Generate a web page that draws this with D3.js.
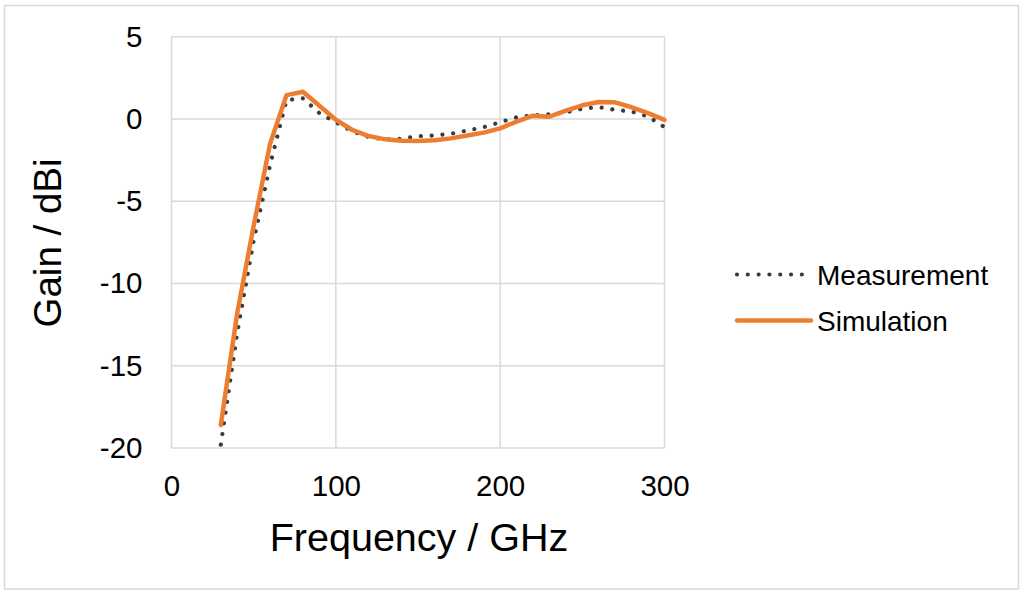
<!DOCTYPE html>
<html><head><meta charset="utf-8">
<script src="https://cdn.jsdelivr.net/npm/d3@7"></script>
<style>
html,body{margin:0;padding:0;background:#fff;}
svg{display:block;font-family:"Liberation Sans",Arial,sans-serif;}
</style></head>
<body><svg id="c" width="1026" height="596"></svg>
<script>
const freq = [30,40,50,60,70,80,90,100,110,120,130,140,150,160,170,180,190,200,210,220,230,240,250,260,270,280,290,300];
const measurement = [-19.8,-13.0,-7.4,-2.8,1.15,1.25,0.35,-0.2,-0.75,-1.1,-1.25,-1.2,-1.05,-1.0,-0.9,-0.7,-0.5,-0.2,0.1,0.22,0.28,0.4,0.62,0.72,0.55,0.45,0.15,-0.5];
const simulation = [-18.6,-11.8,-6.5,-1.5,1.45,1.65,0.8,-0.05,-0.67,-1.04,-1.24,-1.32,-1.34,-1.3,-1.18,-1.01,-0.83,-0.57,-0.16,0.2,0.14,0.5,0.83,1.03,1.01,0.71,0.35,-0.06];
const xTicks = [0,100,200,300];
const yTicks = [5,0,-5,-10,-15,-20];
const seriesNames = ["Measurement","Simulation"];

const svg = d3.select("#c");
// outer frame
svg.append("rect").attr("x",4.5).attr("y",5.5).attr("width",1014).attr("height",583.5)
  .attr("fill","none").attr("stroke","#d9d9d9").attr("stroke-width",1.5);

const x = d3.scaleLinear().domain([0,300]).range([171.5,664.5]);
const y = d3.scaleLinear().domain([-20,5]).range([448,36.7]);

// gridlines
const g = svg.append("g");
g.selectAll("line.v").data(xTicks).join("line")
  .attr("x1",d=>x(d)).attr("x2",d=>x(d)).attr("y1",y(5)).attr("y2",y(-20))
  .attr("stroke","#d9d9d9").attr("stroke-width",1.5);
g.selectAll("line.h").data(yTicks).join("line")
  .attr("y1",d=>y(d)).attr("y2",d=>y(d)).attr("x1",x(0)).attr("x2",x(300))
  .attr("stroke","#d9d9d9").attr("stroke-width",1.5);

// axes labels via d3 axes
const xAxis = svg.append("g").attr("transform",`translate(0,${y(-20)})`)
  .call(d3.axisBottom(x).tickValues(xTicks).tickSize(0).tickPadding(27));
xAxis.select(".domain").remove();
xAxis.selectAll("text").attr("font-size",29.5).attr("fill","#000").attr("font-family","Liberation Sans, Arial, sans-serif");

const yAxis = svg.append("g").attr("transform",`translate(${x(0)},0)`)
  .call(d3.axisLeft(y).tickValues(yTicks).tickSize(0).tickPadding(29).tickFormat(d3.format("d")));
yAxis.select(".domain").remove();
yAxis.selectAll("text").attr("font-size",29.5).attr("fill","#000").attr("font-family","Liberation Sans, Arial, sans-serif");
yAxis.selectAll("text").text(d=>String(d).replace("\u2212","-"));

// lines
const lineM = d3.line().x((d,i)=>x(freq[i])).y(d=>y(d));
svg.append("path").datum(measurement).attr("d",lineM)
  .attr("fill","none").attr("stroke","#3b3b3b").attr("stroke-width",4.2)
  .attr("stroke-linecap","round").attr("stroke-dasharray","0.01 10.8");
svg.append("path").datum(simulation).attr("d",lineM)
  .attr("fill","none").attr("stroke","#ED7D31").attr("stroke-width",4.5)
  .attr("stroke-linejoin","round").attr("stroke-linecap","round");

// axis titles
svg.append("text").attr("x",419).attr("y",551).attr("text-anchor","middle")
  .attr("font-size",39.5).attr("fill","#000").text("Frequency / GHz");
svg.append("text").attr("transform","translate(61,243) rotate(-90)").attr("text-anchor","middle")
  .attr("font-size",38.5).attr("fill","#000").text("Gain / dBi");

// legend
const leg = svg.append("g");
const ly = [274.5,320.5];
leg.append("line").attr("x1",737).attr("x2",809).attr("y1",ly[0]).attr("y2",ly[0])
  .attr("stroke","#3b3b3b").attr("stroke-width",4.2).attr("stroke-linecap","round").attr("stroke-dasharray","0.01 10.8");
leg.append("line").attr("x1",737).attr("x2",811).attr("y1",ly[1]).attr("y2",ly[1])
  .attr("stroke","#ED7D31").attr("stroke-width",4.5).attr("stroke-linecap","round");
leg.selectAll("text").data(seriesNames).join("text")
  .attr("x",817).attr("y",(d,i)=>ly[i]+10).attr("font-size",28).attr("fill","#000").text(d=>d);
</script></body></html>
